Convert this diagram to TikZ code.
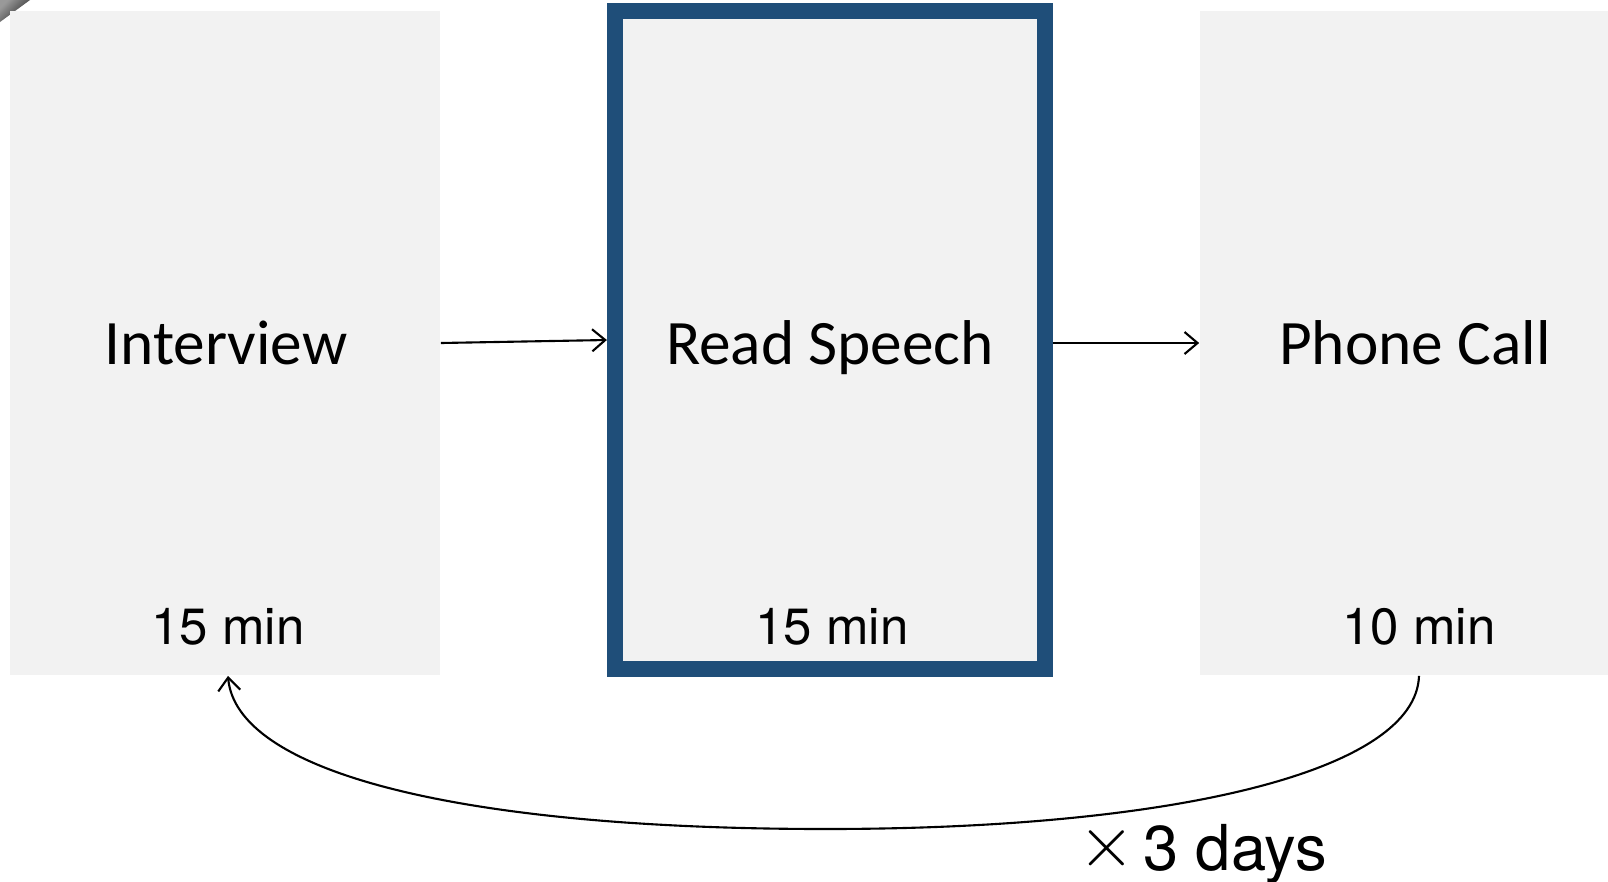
\documentclass[tikz,border=0pt]{standalone}
\usepackage{fontspec}
\setmainfont{Carlito}
\newfontfamily\helv{TeX Gyre Heros}
\usetikzlibrary{arrows.meta}
\definecolor{boxgray}{HTML}{F2F2F2}
\definecolor{speechblue}{HTML}{1F4E79}

\begin{document}
\begin{tikzpicture}[x=0.01cm, y=-0.01cm,
    stage/.style={fill=boxgray, draw=none, inner sep=0pt, minimum width=4.3cm, minimum height=6.64cm},
    title/.style={anchor=base, inner sep=0pt, font=\fontsize{18}{20}\selectfont},
    dur/.style={anchor=base, inner sep=0pt, font=\helv\fontsize{14.5}{16}\selectfont},
    link/.style={-{Straight Barb[length=0.13cm, width=0.22cm]}, line width=0.6pt}]

    \fill[white] (0, 0) rectangle (1608, 881);
    \useasboundingbox (0, 0) rectangle (1608, 881);

    % corner mark
    \shade[left color=gray!80, right color=black!85, shading angle=45] (0, 0) -- (30, 0) -- (0, 22) -- cycle;

    % the three stages
    \node[stage] (interview) at (225, 343) {};
    \node[stage, draw=speechblue, line width=0.16cm, minimum height=6.58cm] (read) at (830, 340) {};
    \node[stage, minimum width=4.08cm] (phone) at (1404, 343) {};

    \node[title] (interviewtxt) at (226, 364) {Interview};
    \node[title] (readtxt) at (830, 364) {Read Speech};
    \node[title] (phonetxt) at (1415, 364) {Phone Call};

    \node[dur] (interviewdur) at (228, 644) {15 min};
    \node[dur] (readdur) at (832, 644) {15 min};
    \node[dur] (phonedur) at (1419, 644) {10 min};

    \draw[link] (interview.east) -- (read.west);
    \draw[link] (read.east |- phone.west) -- (phone.west);

    % repeat loop
    \draw[link] (phonedur |- phone.south)
        .. controls (1416, 770) and (1180, 829) .. (826, 829)
        .. controls (450, 829) and (236, 770) .. (interviewdur |- interview.south);

    \node[anchor=base, inner sep=0pt, font=\helv\fontsize{18}{20}\selectfont] (repeat) at (1203, 870)
        {\raisebox{0.04cm}{\fontsize{21}{21}\selectfont$\times$}\hspace{0.08cm}3 days};

\end{tikzpicture}
\end{document}
